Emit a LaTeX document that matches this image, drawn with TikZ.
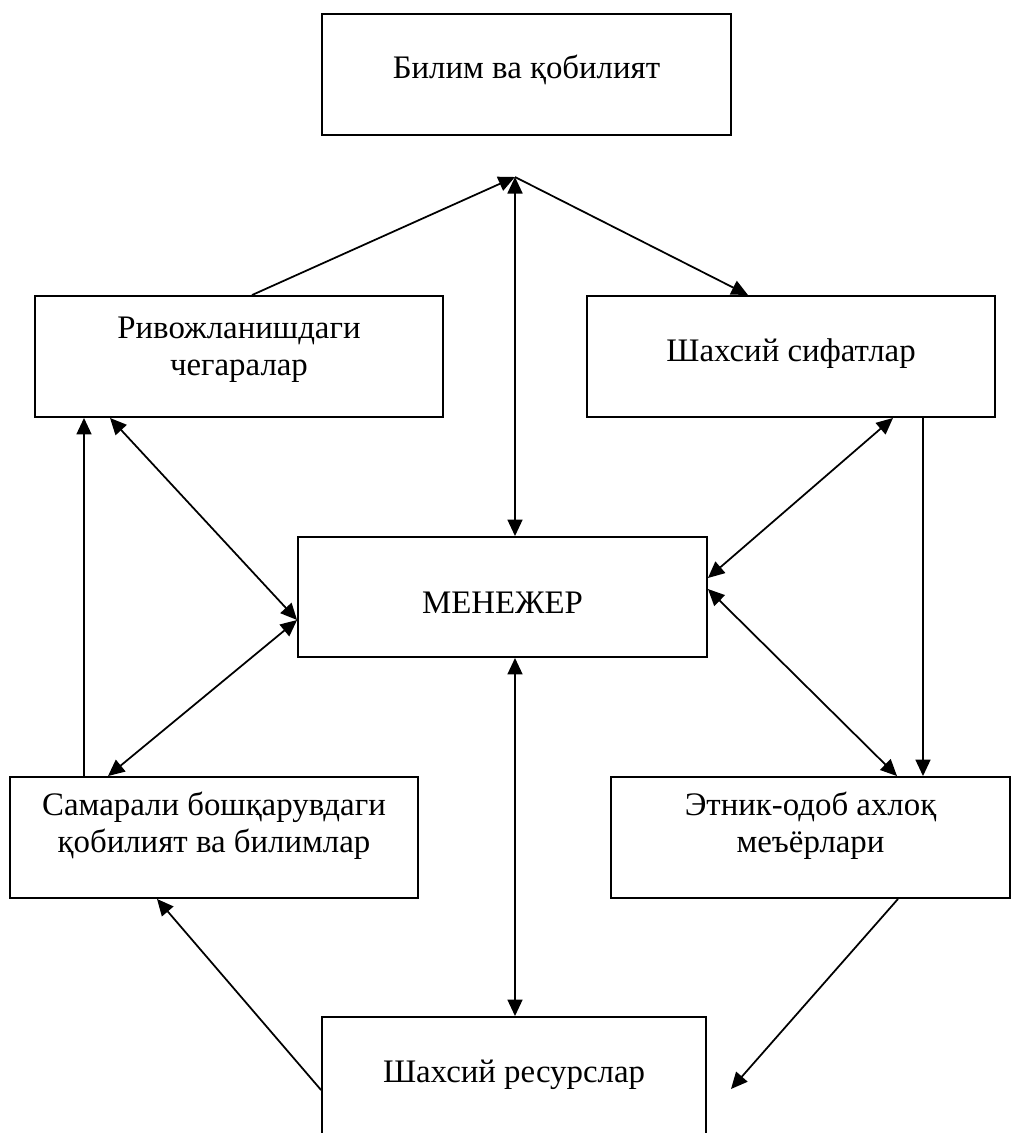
\documentclass[tikz,border=0pt]{standalone}
\usepackage{fontspec}
\setmainfont{Liberation Serif}
\usepackage{tikz}
\usetikzlibrary{positioning,calc,arrows.meta}

\begin{document}
\begin{tikzpicture}[x=0.02cm, y=-0.02cm, >={Triangle[length=3.3mm,width=3mm]},
    box/.style={draw, line width=1.1pt, minimum width=8.18cm, minimum height=2.42cm, inner sep=0pt},
    txt/.style={anchor=base, align=center, inner sep=0pt, font=\fontsize{18.7}{20.6}\selectfont},
    link/.style={line width=1pt}]
    \useasboundingbox (0,0) rectangle (1012,1133);

    % Boxes
    \node[box] (bil) at (526.5,74.5) {};
    \node[box, minimum width=8.16cm] (riv) at (239,356.5) {};
    \node[box, minimum width=8.16cm] (shax) at (791,356.5) {};
    \node[box, minimum height=2.4cm] (men) at (502.5,597) {};
    \node[box, minimum width=8.16cm] (sam) at (214,837.5) {};
    \node[box, minimum width=7.98cm] (eth) at (810.5,837.5) {};
    \node[box, minimum width=7.68cm, minimum height=2.66cm] (res) at (514,1083.5) {};

    % Texts (base = last line)
    \node[txt] (bilT) at (526.5,78) {Билим ва қобилият};
    \node[txt] (rivT) at (239,375) {Ривожланишдаги\\чегаралар};
    \node[txt] (shaxT) at (791,361) {Шахсий сифатлар};
    \node[txt] (menT) at (502.5,613) {МЕНЕЖЕР};
    \node[txt] (samT) at (214,852) {Самарали бошқарувдаги\\қобилият ва билимлар};
    \node[txt] (ethT) at (810.5,852) {Этник-одоб ахлоқ\\меъёрлари};
    \node[txt] (resT) at (514,1082) {Шахсий ресурслар};

    % Junction under the top box
    \coordinate (jn) at (515,177);
    \coordinate (free) at (731,1089);

    % Connectors
    \draw[link, ->] ($(riv.north)+(13,0)$) -- (jn);
    \draw[link, <->] (jn) -- ($(men.north)+(12.5,0)$);
    \draw[link, ->] (jn) -- ($(shax.north)+(-43,0)$);
    \draw[link, ->] ($(sam.north)+(-130,0)$) -- ($(riv.south)+(-155,0)$);
    \draw[link, <->] ($(riv.south)+(-129,0)$) -- ($(men.west)+(0,23)$);
    \draw[link, <->] ($(sam.north)+(-106,0)$) -- ($(men.west)+(0,23)$);
    \draw[link, <->] ($(shax.south)+(102,0)$) -- ($(men.east)+(0,-19)$);
    \draw[link, <->] ($(men.east)+(0,-8)$) -- ($(eth.north)+(86.5,0)$);
    \draw[link, ->] ($(shax.south)+(132,0)$) -- ($(eth.north)+(112.5,0)$);
    \draw[link, <->] ($(men.south)+(12.5,0)$) -- ($(res.north)+(1,0)$);
    \draw[link, ->] ($(res.west)+(0,6.5)$) -- ($(sam.south)+(-57,0)$);
    \draw[link, ->] ($(eth.south)+(87.5,0)$) -- (free);
\end{tikzpicture}
\end{document}
